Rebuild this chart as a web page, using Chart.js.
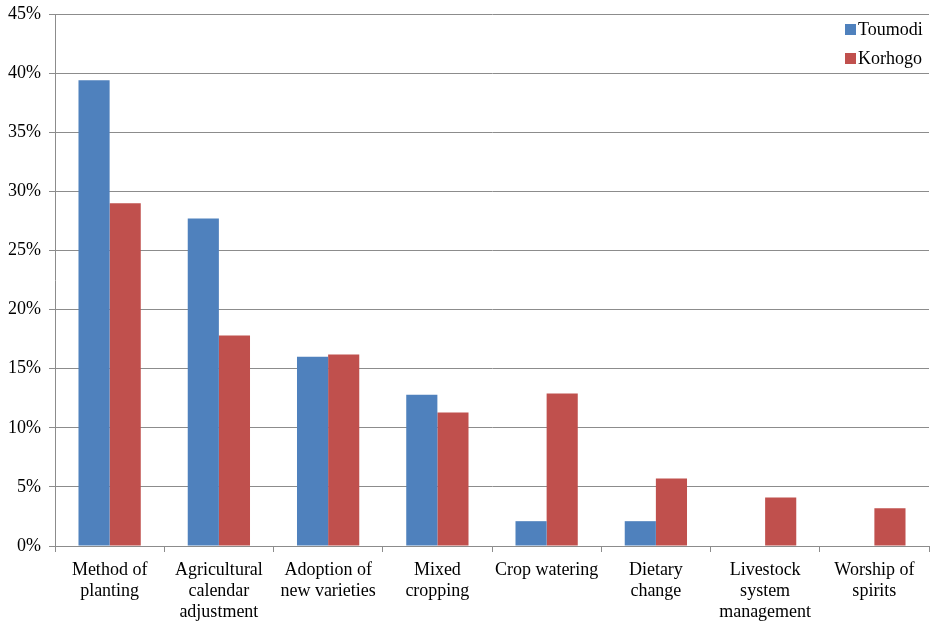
<!DOCTYPE html>
<html>
<head>
<meta charset="utf-8">
<script src="https://cdn.jsdelivr.net/npm/chart.js@4"></script>
<style>
  html, body { margin: 0; padding: 0; background: #fff; }
  #wrap { width: 930px; height: 622px; }
</style>
</head>
<body>
<div id="wrap"><canvas id="c" width="930" height="622"></canvas></div>
<script>
// Adaptation strategies reported by farmers, share of respondents
const categories = [
  ["Method of", "planting"],
  ["Agricultural", "calendar", "adjustment"],
  ["Adoption of", "new varieties"],
  ["Mixed", "cropping"],
  "Crop watering",
  ["Dietary", "change"],
  ["Livestock", "system", "management"],
  ["Worship of", "spirits"]
];
const toumodi = [39.4, 27.7, 16.0, 12.8, 2.1, 2.1, 0, 0];
const korhogo = [29.0, 17.8, 16.2, 11.3, 12.9, 5.7, 4.1, 3.2];
const seriesNames = ["Toumodi", "Korhogo"];
const yTicks = [0, 5, 10, 15, 20, 25, 30, 35, 40, 45];

const FONT = "Liberation Serif";
const GRID = "#8c8c8c";
Chart.defaults.font.family = FONT;

// Legend drawn inside the plot area, top-right
const insideLegend = {
  id: 'insideLegend',
  afterDraw(chart) {
    const ctx = chart.ctx;
    const area = chart.chartArea;
    ctx.save();
    ctx.font = "18px 'Liberation Serif'";
    ctx.textBaseline = 'middle';
    ctx.textAlign = 'left';
    chart.data.datasets.forEach((ds, i) => {
      const y = area.top + 15 + i * 29;
      const x = area.right - 84;
      ctx.fillStyle = ds.backgroundColor;
      ctx.fillRect(x, y - 5, 11, 11);
      ctx.fillStyle = '#000';
      ctx.fillText(ds.label, x + 13, y + 1);
    });
    ctx.restore();
  }
};

new Chart(document.getElementById('c'), {
  type: 'bar',
  data: {
    labels: categories,
    datasets: [
      { label: seriesNames[0], data: toumodi, backgroundColor: '#4F81BD' },
      { label: seriesNames[1], data: korhogo, backgroundColor: '#C0504D' }
    ]
  },
  options: {
    responsive: false,
    animation: false,
    devicePixelRatio: 1,
    layout: { padding: { top: 14, right: 1, left: 0, bottom: 0 } },
    plugins: {
      legend: { display: false },
      tooltip: { enabled: false }
    },
    datasets: {
      bar: { barPercentage: 1.0, categoryPercentage: 0.57 }
    },
    scales: {
      x: {
        grid: {
          offset: true,
          drawOnChartArea: false,
          drawTicks: true,
          tickLength: 6,
          color: GRID
        },
        border: { color: GRID, width: 1 },
        ticks: {
          color: '#000',
          font: { family: FONT, size: 18, lineHeight: 1.17 },
          maxRotation: 0,
          autoSkip: false,
          padding: 8
        },
        afterFit(scale) {
          scale.height = 76;
          scale.paddingLeft = 0;
          scale.paddingRight = 0;
        }
      },
      y: {
        min: 0,
        max: 45,
        afterBuildTicks(scale) { scale.ticks = yTicks.map(v => ({ value: v })); },
        grid: { color: GRID, tickLength: 6 },
        border: { color: GRID, width: 1 },
        ticks: {
          color: '#000',
          font: { family: FONT, size: 18 },
          padding: 8,
          callback: v => v + '%'
        },
        afterFit(scale) {
          scale.width = 55;
          scale.paddingTop = 0;
          scale.paddingBottom = 0;
        }
      }
    }
  },
  plugins: [insideLegend]
});
</script>
</body>
</html>
